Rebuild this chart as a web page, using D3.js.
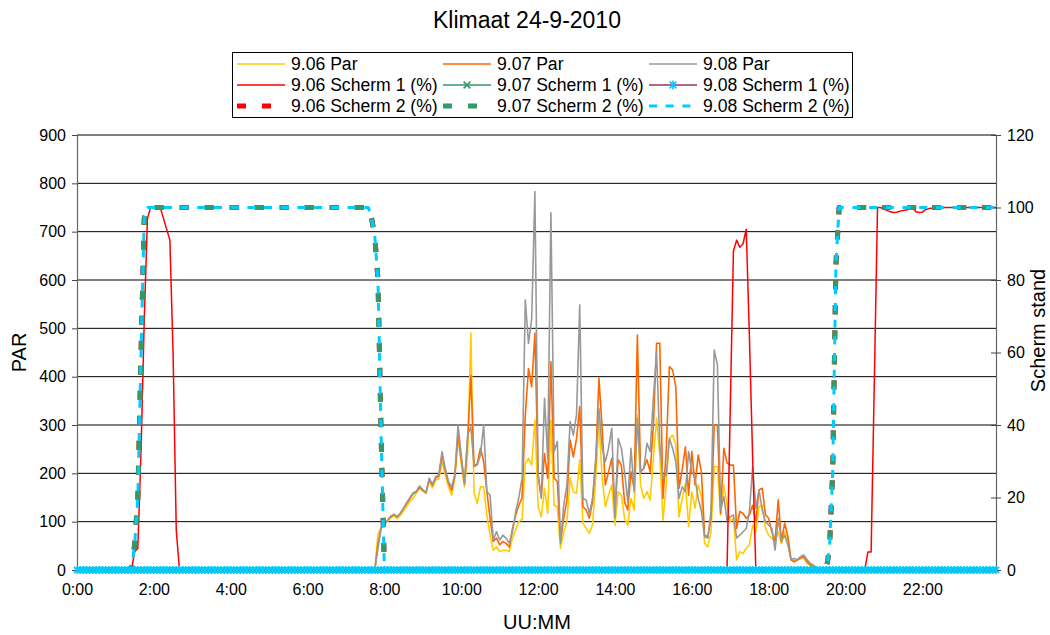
<!DOCTYPE html>
<meta charset="utf-8">
<style>
    body { margin: 0; background: #fff; }
    text { font-family: "Liberation Sans", Arial, sans-serif; fill: #000; }
</style>
<body>
<svg width="1050" height="635"></svg>
<script src="https://cdn.jsdelivr.net/npm/d3@7/dist/d3.min.js"></script>
<script>
    // 5-minute samples, 0:00 .. 23:55 (288 per series), one row = 2 hours
    var par906 = [
        0,0,0,0,0,0,0,0,0,0,0,0,0,0,0,0,0,0,0,0,0,0,0,0,
        0,0,0,0,0,0,0,0,0,0,0,0,0,0,0,0,0,0,0,0,0,0,0,0,
        0,0,0,0,0,0,0,0,0,0,0,0,0,0,0,0,0,0,0,0,0,0,0,0,
        0,0,0,0,0,0,0,0,0,0,0,0,0,0,0,0,0,0,0,0,0,0,75,88,
        95,100,108,112,106,113,122,132,142,148,160,168,163,158,185,170,186,188,224,197,172,155,190,272,
        220,172,240,490,159,138,172,172,114,72,41,48,38,41,41,38,66,83,100,105,220,231,217,310,
        131,110,169,117,310,134,131,45,79,100,190,162,159,228,97,86,76,93,190,307,190,131,155,176,
        93,162,155,107,93,148,124,321,176,148,162,145,231,314,238,103,176,272,279,259,110,148,179,90,
        162,128,176,152,55,48,79,214,214,114,176,134,100,107,21,38,34,45,52,93,79,131,134,86,
        72,66,59,79,55,79,62,21,17,21,28,24,14,10,3,2,0,0,0,0,0,0,0,0,
        0,0,0,0,0,0,0,0,0,0,0,0,0,0,0,0,0,0,0,0,0,0,0,0,
        0,0,0,0,0,0,0,0,0,0,0,0,0,0,0,0,0,0,0,0,0,0,0,0
    ];
    var par907 = [
        0,0,0,0,0,0,0,0,0,0,0,0,0,0,0,0,0,0,0,0,0,0,0,0,
        0,0,0,0,0,0,0,0,0,0,0,0,0,0,0,0,0,0,0,0,0,0,0,0,
        0,0,0,0,0,0,0,0,0,0,0,0,0,0,0,0,0,0,0,0,0,0,0,0,
        0,0,0,0,0,0,0,0,0,0,0,0,0,0,0,0,0,0,0,0,0,0,55,88,
        96,103,110,115,110,117,128,138,148,158,162,172,165,160,188,175,190,195,238,205,180,165,195,283,
        230,178,270,403,215,220,252,224,162,107,59,66,52,59,55,48,86,114,134,150,320,417,379,490,
        197,152,241,190,431,190,183,60,107,145,269,234,272,338,131,124,107,141,224,397,293,176,203,231,
        121,228,217,141,124,203,169,486,203,210,228,203,300,469,469,148,245,421,414,379,169,207,255,155,
        245,176,238,203,72,69,107,300,300,117,252,221,217,217,86,121,117,107,114,134,100,166,169,114,
        107,79,60,145,59,97,69,21,17,21,24,28,17,10,7,3,0,0,0,0,0,0,0,0,
        0,0,0,0,0,0,0,0,0,0,0,0,0,0,0,0,0,0,0,0,0,0,0,0,
        0,0,0,0,0,0,0,0,0,0,0,0,0,0,0,0,0,0,0,0,0,0,0,0
    ];
    var par908 = [
        0,0,0,0,0,0,0,0,0,0,0,0,0,0,0,0,0,0,0,0,0,0,0,0,
        0,0,0,0,0,0,0,0,0,0,0,0,0,0,0,0,0,0,0,0,0,0,0,0,
        0,0,0,0,0,0,0,0,0,0,0,0,0,0,0,0,0,0,0,0,0,0,0,0,
        0,0,0,0,0,0,0,0,0,0,0,0,0,0,0,0,0,0,0,0,0,0,45,86,
        96,103,112,115,110,118,128,140,150,160,163,174,166,160,190,177,193,197,245,210,183,172,197,300,
        238,179,280,296,214,217,238,300,162,155,62,79,62,72,66,55,79,121,150,190,559,469,520,783,
        197,148,355,231,739,245,266,55,134,176,307,279,321,548,148,145,117,148,231,334,252,224,252,293,
        107,272,252,203,141,252,162,314,203,210,262,245,355,450,260,190,197,272,252,224,148,172,162,245,
        203,190,148,121,69,66,121,455,424,124,152,103,110,114,66,72,79,86,121,214,128,166,124,100,
        93,86,41,107,62,72,52,21,24,21,28,31,21,14,10,5,3,0,0,0,0,0,0,0,
        0,0,0,0,0,0,0,0,0,0,0,0,0,0,0,0,0,0,0,0,0,0,0,0,
        0,0,0,0,0,0,0,0,0,0,0,0,0,0,0,0,0,0,0,0,0,0,0,0
    ];
    var scherm1_906 = [
        0,0,0,0,0,0,0,0,0,0,0,0,0,0,0,0,0,0,5,6,33,69,97,100,
        100,100,100,97,94,91,60,11,0,0,0,0,0,0,0,0,0,0,0,0,0,0,0,0,
        0,0,0,0,0,0,0,0,0,0,0,0,0,0,0,0,0,0,0,0,0,0,0,0,
        0,0,0,0,0,0,0,0,0,0,0,0,0,0,0,0,0,0,0,0,0,0,0,0,
        0,0,0,0,0,0,0,0,0,0,0,0,0,0,0,0,0,0,0,0,0,0,0,0,
        0,0,0,0,0,0,0,0,0,0,0,0,0,0,0,0,0,0,0,0,0,0,0,0,
        0,0,0,0,0,0,0,0,0,0,0,0,0,0,0,0,0,0,0,0,0,0,0,0,
        0,0,0,0,0,0,0,0,0,0,0,0,0,0,0,0,0,0,0,0,0,0,0,0,
        0,0,0,0,0,0,0,0,0,0,0,0,44,88,91,89,90,94,64,31,0,0,0,0,
        0,0,0,0,0,0,0,0,0,0,0,0,0,0,0,0,0,0,0,0,0,0,0,0,
        0,0,0,0,0,0,0,5,5,52,100,100,99.5,99.2,98.8,98.6,98.7,99,99.2,99.3,99.6,99.8,98.8,98.6,
        98.7,99.4,99.7,99.8,99.9,100,100,100,100,100,100,100,100,100,100,100,100,100,100,100,100,100,100,100
    ];
    var scherm1_907 = [
        0,0,0,0,0,0,0,0,0,0,0,0,0,0,0,0,0,0,0,0,0,0,0,0,
        0,0,0,0,0,0,0,0,0,0,0,0,0,0,0,0,0,0,0,0,0,0,0,0,
        0,0,0,0,0,0,0,0,0,0,0,0,0,0,0,0,0,0,0,0,0,0,0,0,
        0,0,0,0,0,0,0,0,0,0,0,0,0,0,0,0,0,0,0,0,0,0,0,0,
        0,0,0,0,0,0,0,0,0,0,0,0,0,0,0,0,0,0,0,0,0,0,0,0,
        0,0,0,0,0,0,0,0,0,0,0,0,0,0,0,0,0,0,0,0,0,0,0,0,
        0,0,0,0,0,0,0,0,0,0,0,0,0,0,0,0,0,0,0,0,0,0,0,0,
        0,0,0,0,0,0,0,0,0,0,0,0,0,0,0,0,0,0,0,0,0,0,0,0,
        0,0,0,0,0,0,0,0,0,0,0,0,0,0,0,0,0,0,0,0,0,0,0,0,
        0,0,0,0,0,0,0,0,0,0,0,0,0,0,0,0,0,0,0,0,0,0,0,0,
        0,0,0,0,0,0,0,0,0,0,0,0,0,0,0,0,0,0,0,0,0,0,0,0,
        0,0,0,0,0,0,0,0,0,0,0,0,0,0,0,0,0,0,0,0,0,0,0,0
    ];
    var scherm1_908 = scherm1_907.slice(); // also flat at 0 all day
    var scherm2_907 = [
        0,0,0,0,0,0,0,0,0,0,0,0,0,0,0,0,0,0,7,20,60,97,100,100,
        100,100,100,100,100,100,100,100,100,100,100,100,100,100,100,100,100,100,100,100,100,100,100,100,
        100,100,100,100,100,100,100,100,100,100,100,100,100,100,100,100,100,100,100,100,100,100,100,100,
        100,100,100,100,100,100,100,100,100,100,100,100,100,100,100,100,100,100,100,100,97,92,80,36,
        0,0,0,0,0,0,0,0,0,0,0,0,0,0,0,0,0,0,0,0,0,0,0,0,
        0,0,0,0,0,0,0,0,0,0,0,0,0,0,0,0,0,0,0,0,0,0,0,0,
        0,0,0,0,0,0,0,0,0,0,0,0,0,0,0,0,0,0,0,0,0,0,0,0,
        0,0,0,0,0,0,0,0,0,0,0,0,0,0,0,0,0,0,0,0,0,0,0,0,
        0,0,0,0,0,0,0,0,0,0,0,0,0,0,0,0,0,0,0,0,0,0,0,0,
        0,0,0,0,0,0,0,0,0,0,0,0,0,0,0,0,0,0,0,6,27,84,100,100,
        100,100,100,100,100,100,100,100,100,100,100,100,100,100,100,100,100,100,100,100,100,100,100,100,
        100,100,100,100,100,100,100,100,100,100,100,100,100,100,100,100,100,100,100,100,100,100,100,100
    ];
    var scherm2_908 = scherm2_907.slice(); // same curve, drawn on top
    var scherm2_906 = scherm2_907.slice(); // hidden under the other two

    var timeTicks = d3.range(0, 288, 24);   // every 2 hours
    var parTicks = d3.range(0, 901, 100);
    var schermTicks = d3.range(0, 121, 20);

    var svg = d3.select("svg");

    var plotL = 77, plotR = 996, plotT = 135, plotB = 570;

    var x = d3.scaleLinear().domain([0, 287]).range([plotL, plotR]);
    var yPar = d3.scaleLinear().domain([0, 900]).range([plotB, plotT]);
    var yScherm = d3.scaleLinear().domain([0, 120]).range([plotB, plotT]);

    var series = [
        {name: "9.06 Par", values: par906, y: yPar, color: "#FFCC00", width: 1.6},
        {name: "9.07 Par", values: par907, y: yPar, color: "#FF6600", width: 1.6},
        {name: "9.08 Par", values: par908, y: yPar, color: "#999999", width: 1.6},
        {name: "9.06 Scherm 1 (%)", values: scherm1_906, y: yScherm, color: "#FF0000", width: 1.5},
        {name: "9.07 Scherm 1 (%)", values: scherm1_907, y: yScherm, color: "#339966", width: 1.5, marker: "x", markerColor: "#339966"},
        {name: "9.08 Scherm 1 (%)", values: scherm1_908, y: yScherm, color: "#993366", width: 1.5, marker: "star", markerColor: "#00CCFF"},
        {name: "9.06 Scherm 2 (%)", values: scherm2_906, y: yScherm, color: "#FF0000", width: 5, dash: "9,16"},
        {name: "9.07 Scherm 2 (%)", values: scherm2_907, y: yScherm, color: "#339966", width: 5, dash: "9,16"},
        {name: "9.08 Scherm 2 (%)", values: scherm2_908, y: yScherm, color: "#00CCFF", width: 3, dash: "8,8.7"}
    ];

    // gridlines
    svg.append("g").selectAll("line")
        .data(parTicks.slice(1))
        .enter().append("line")
        .attr("x1", plotL).attr("x2", plotR)
        .attr("y1", function(d) { return yPar(d); })
        .attr("y2", function(d) { return yPar(d); })
        .attr("stroke", "#000")
        .attr("stroke-width", 1);

    // left axis
    var axL = svg.append("g")
        .attr("transform", "translate(" + plotL + ",0)")
        .call(d3.axisLeft(yPar).tickValues(parTicks).tickSize(5).tickPadding(6));
    // right axis
    var axR = svg.append("g")
        .attr("transform", "translate(" + plotR + ",0)")
        .call(d3.axisRight(yScherm).tickValues(schermTicks).tickSize(5).tickPadding(6));
    axR.selectAll(".tick line").attr("x1", -5);
    // bottom axis
    var axB = svg.append("g")
        .attr("transform", "translate(0," + plotB + ")")
        .call(d3.axisBottom(x).tickValues(timeTicks).tickSize(0).tickPadding(14)
            .tickFormat(function(i) { return (i / 12) + ":00"; }));

    [axL, axR, axB].forEach(function(ax) {
        ax.select(".domain").attr("stroke", "#666").attr("stroke-width", 1.2);
        ax.selectAll(".tick line").attr("stroke", "#444");
        ax.selectAll(".tick text")
            .style("font-family", "'Liberation Sans', Arial, sans-serif")
            .style("font-size", "16px")
            .attr("fill", "#000");
    });

    // lines
    var plot = svg.append("g");
    series.forEach(function(s) {
        var line = d3.line()
            .x(function(d, i) { return x(i); })
            .y(function(d) { return s.y(d); });
        plot.append("path")
            .datum(s.values)
            .attr("d", line)
            .attr("fill", "none")
            .attr("stroke", s.color)
            .attr("stroke-width", s.width)
            .attr("stroke-dasharray", s.dash || null)
            .attr("stroke-linejoin", "round");
    });

    function markerPath(type, r) {
        var k = r * 0.75;
        if (type == "x") {
            return "M" + (-k) + "," + (-k) + "L" + k + "," + k + "M" + (-k) + "," + k + "L" + k + "," + (-k);
        }
        return "M" + (-k) + "," + (-k) + "L" + k + "," + k + "M" + (-k) + "," + k + "L" + k + "," + (-k) +
            "M0," + (-r) + "L0," + r;
    }

    // markers on top
    series.forEach(function(s) {
        if (!s.marker) return;
        plot.append("g").selectAll("path")
            .data(s.values)
            .enter().append("path")
            .attr("transform", function(d, i) { return "translate(" + x(i) + "," + s.y(d) + ")"; })
            .attr("d", markerPath(s.marker, 4))
            .attr("fill", "none")
            .attr("stroke", s.markerColor)
            .attr("stroke-width", 1.4);
    });

    // titles
    svg.append("text")
        .attr("x", 527).attr("y", 28)
        .attr("text-anchor", "middle")
        .style("font-size", "23px")
        .text("Klimaat 24-9-2010");

    svg.append("text")
        .attr("x", 537).attr("y", 629)
        .attr("text-anchor", "middle")
        .style("font-size", "20px")
        .text("UU:MM");

    svg.append("text")
        .attr("transform", "translate(26," + ((plotT + plotB) / 2) + ") rotate(-90)")
        .attr("text-anchor", "middle")
        .style("font-size", "20px")
        .text("PAR");

    svg.append("text")
        .attr("transform", "translate(1045," + ((plotT + plotB) / 2 - 22) + ") rotate(-90)")
        .attr("text-anchor", "middle")
        .style("font-size", "20px")
        .text("Scherm stand");

    // legend
    var legend = svg.append("g").attr("class", "legend");
    legend.append("rect")
        .attr("x", 232.5).attr("y", 52.5)
        .attr("width", 620).attr("height", 65)
        .attr("fill", "#fff")
        .attr("stroke", "#000");

    series.forEach(function(s, i) {
        var col = i % 3, row = Math.floor(i / 3);
        var lx = 237 + col * 206, ly = 64 + row * 21;
        var g = legend.append("g");
        g.append("line")
            .attr("x1", lx).attr("x2", lx + 48)
            .attr("y1", ly).attr("y2", ly)
            .attr("stroke", s.color)
            .attr("stroke-width", s.width)
            .attr("stroke-dasharray", s.dash || null);
        if (s.marker) {
            g.append("path")
                .attr("transform", "translate(" + (lx + 24) + "," + ly + ")")
                .attr("d", markerPath(s.marker, 4.5))
                .attr("fill", "none")
                .attr("stroke", s.markerColor)
                .attr("stroke-width", 1.6);
        }
        g.append("text")
            .attr("x", lx + 54).attr("y", ly + 6)
            .style("font-size", "17.6px")
            .text(s.name);
    });
</script>
</body>
